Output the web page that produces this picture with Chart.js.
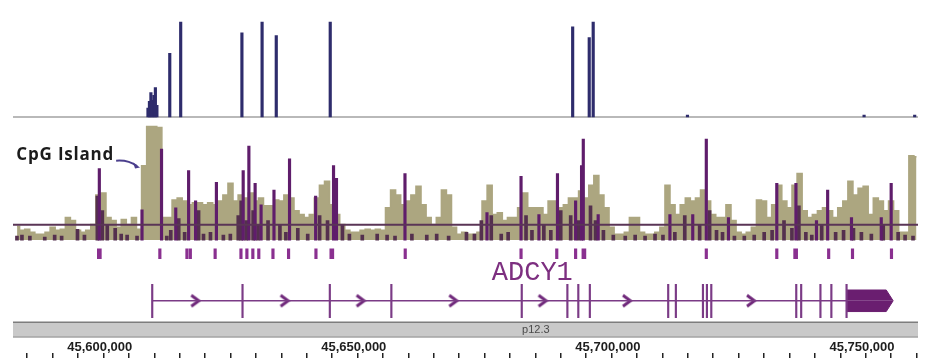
<!DOCTYPE html>
<html lang="en">
<head>
<meta charset="UTF-8" />
<title>ADCY1 locus</title>
<script src="https://cdn.jsdelivr.net/npm/chart.js"></script>
<style>
  html, body { margin: 0; padding: 0; background: #fff; }
  #wrap { width: 925px; height: 358px; }
</style>
</head>
<body>
<div id="wrap"><canvas id="locus" width="925" height="358"></canvas></div>
<script>
// view window (kb on chr7)
const viewStart = 45584.7;
const viewEnd = 45762.8;
const rulerLabels = [45600, 45650, 45700, 45750];
const rulerStep = 5;

// top track: hits
const topPos = [45611.26, 45611.55, 45611.84, 45612.14, 45612.43, 45612.72, 45613.02, 45615.55, 45617.70,
  45629.75, 45633.72, 45636.51, 45647.13, 45694.84, 45698.10, 45698.88, 45717.43, 45752.19, 45762.15];
const topVal = [9, 16, 25, 17, 22, 30, 12, 65, 97, 86, 97, 83, 97, 92, 81, 97, 2, 2, 2];

// coverage, fixedStep wig (1 kb bins)
const covStart = 45585.5;
const covStep = 1;
const covVal = [
  14, 10, 11, 8, 6, 6, 8, 13, 10, 11,
  23, 20, 10, 8, 10, 16, 46, 48, 23, 20,
  13, 21, 16, 23, 11, 76, 116, 116, 115, 23,
  23, 41, 43, 40, 36, 38, 38, 36, 38, 36,
  40, 46, 58, 40, 46, 43, 48, 40, 43, 35,
  35, 41, 40, 46, 43, 30, 26, 23, 26, 43,
  56, 60, 36, 26, 16, 10, 8, 8, 10, 11,
  10, 11, 10, 33, 51, 46, 36, 40, 46, 55,
  36, 23, 16, 23, 51, 46, 13, 6, 8, 6,
  6, 8, 40, 56, 26, 28, 20, 23, 23, 33,
  48, 33, 33, 33, 26, 40, 40, 33, 36, 43,
  43, 50, 43, 56, 66, 46, 33, 13, 6, 6,
  8, 23, 23, 8, 6, 6, 8, 13, 56, 36,
  26, 36, 43, 40, 43, 51, 40, 26, 23, 23,
  36, 20, 8, 6, 8, 13, 41, 40, 23, 36,
  56, 40, 33, 56, 68, 30, 23, 26, 30, 33,
  30, 23, 33, 40, 60, 46, 53, 55, 26, 43,
  40, 30, 40, 30, 8, 8, 86, 85
];

// CpG signal bars
const spikePos = [45601.69, 45610.09, 45613.93, 45616.73, 45619.26, 45620.63, 45624.73, 45630.00, 45631.12,
  45632.35, 45633.52, 45636.06, 45639.12, 45644.26, 45647.78, 45648.36, 45661.84, 45677.98, 45684.68,
  45688.20, 45691.85, 45695.42, 45696.59, 45696.93, 45699.86, 45713.98, 45718.47, 45721.14, 45725.50,
  45735.01, 45738.78, 45742.82, 45745.02, 45749.71, 45755.57, 45757.52];
const spikeVal = [73, 31, 93, 33, 71, 40, 59, 71, 96, 58, 36, 51, 83, 45, 76, 63, 68, 28, 65,
  26, 68, 40, 76, 103, 26, 26, 26, 103, 23, 58, 58, 20, 51, 23, 23, 58];

const lowPos = [45585.48, 45586.46, 45588.02, 45590.95, 45592.90, 45594.27, 45597.39, 45598.76, 45601.30,
  45602.28, 45603.25, 45604.81, 45605.99, 45607.16, 45609.11, 45614.97, 45615.75, 45617.31, 45618.48,
  45621.22, 45622.19, 45623.56, 45626.10, 45627.47, 45629.03, 45629.61, 45630.59, 45631.96, 45632.93,
  45634.89, 45637.23, 45638.40, 45640.75, 45642.70, 45645.04, 45646.60, 45649.53, 45650.90, 45653.44,
  45656.37, 45658.32, 45659.88, 45663.20, 45666.13, 45668.08, 45670.43, 45673.94, 45675.51, 45676.87,
  45678.82, 45680.78, 45682.14, 45685.66, 45686.83, 45689.17, 45690.54, 45692.49, 45694.45, 45696.01,
  45698.35, 45699.33, 45700.89, 45702.84, 45705.19, 45707.14, 45709.09, 45711.05, 45712.61, 45714.95,
  45716.90, 45719.83, 45721.79, 45723.15, 45724.33, 45726.67, 45728.62, 45730.57, 45732.53, 45734.09,
  45736.43, 45737.99, 45739.36, 45740.73, 45741.90, 45743.85, 45746.59, 45748.15, 45750.10, 45751.66,
  45753.62, 45755.96, 45758.89, 45760.26, 45761.82];
const lowVal = [4, 5, 4, 3, 5, 4, 11, 5, 45,
  30, 15, 12, 6, 5, 4, 4, 10, 22, 8,
  30, 6, 8, 5, 6, 25, 40, 20, 30, 15,
  20, 15, 8, 12, 6, 25, 20, 15, 6, 5,
  6, 5, 4, 6, 5, 6, 4, 8, 6, 20,
  25, 6, 8, 25, 10, 15, 10, 30, 25, 20,
  35, 20, 10, 5, 4, 5, 4, 6, 5, 8,
  25, 15, 30, 10, 8, 4, 4, 5, 8, 10,
  20, 12, 35, 8, 5, 15, 8, 10, 12, 8,
  6, 15, 8, 5, 4];
const cutoff = 15.7;

// feature marks
const markPos = [45613.60, 45618.93, 45619.60, 45624.48, 45629.56, 45630.73, 45631.90, 45633.07, 45635.86,
  45638.93, 45644.32, 45661.89, 45684.68, 45691.71, 45695.42, 45721.14, 45735.01, 45745.22, 45749.91, 45757.58];
const markWidePos = [45601.69, 45647.44, 45697.05, 45738.72];

// ADCY1 gene model
const exonPos = [45612.10, 45629.87, 45647.05, 45659.16, 45684.82, 45693.80, 45695.95, 45698.22, 45713.64,
  45715.15, 45720.48, 45721.26, 45722.12, 45738.84, 45739.81, 45743.60, 45745.75, 45748.74];
const txStart = 45612.10;
const utrStart = 45748.74;
const utrEnd = 45756.55;
const txEnd = 45757.91;
const strandPos = [45620.57, 45638.15, 45653.11, 45671.35, 45688.92, 45705.52, 45729.93];
const geneName = 'ADCY1';
const geneLabelPos = 45686.9;
const bandName = 'p12.3';
const bandLabelPos = 45687.6;
const islandLabel = 'CpG Island';
const islandArrow = [[45605.0, 81], [45609.7, 74]];

const xy = (xs, ys) => xs.map((x, i) => ({ x, y: ys[i] }));

const chevron = (() => {
  const c = document.createElement('canvas');
  c.width = 12; c.height = 15;
  const g = c.getContext('2d');
  g.strokeStyle = '#70297b';
  g.lineWidth = 3;
  g.beginPath(); g.moveTo(2, 2); g.lineTo(9.5, 7.5); g.lineTo(2, 13); g.stroke();
  return c;
})();

const decor = {
  id: 'decor',
  beforeDatasetsDraw(chart) {
    const { ctx, chartArea, scales } = chart;
    const top = scales.yBand.getPixelForValue(1);
    const bot = scales.yBand.getPixelForValue(0);
    ctx.save();
    ctx.fillStyle = '#c9c9c9';
    ctx.fillRect(chartArea.left, top, chartArea.right - chartArea.left, bot - top);
    ctx.strokeStyle = '#7d7d7d';
    ctx.lineWidth = 1.5;
    ctx.beginPath(); ctx.moveTo(chartArea.left, top); ctx.lineTo(chartArea.right, top); ctx.stroke();
    ctx.strokeStyle = '#a3a3a3';
    ctx.beginPath(); ctx.moveTo(chartArea.left, bot); ctx.lineTo(chartArea.right, bot); ctx.stroke();
    ctx.fillStyle = '#4a4a4a';
    ctx.font = '11px "Liberation Sans", Arial, sans-serif';
    ctx.textAlign = 'center';
    ctx.textBaseline = 'middle';
    ctx.fillText(bandName, scales.x.getPixelForValue(bandLabelPos), (top + bot) / 2 + 0.5);
    ctx.restore();
  },
  afterDatasetsDraw(chart) {
    const { ctx, scales } = chart;
    const x = scales.x, yg = scales.yGene, ym = scales.yMid;
    ctx.save();
    ctx.fillStyle = '#7d2f80';
    ctx.font = '27px "Liberation Mono", "Courier New", monospace';
    ctx.textAlign = 'center';
    ctx.textBaseline = 'alphabetic';
    ctx.fillText(geneName, x.getPixelForValue(geneLabelPos), yg.getPixelForValue(21.7));

    const [a, b] = islandArrow;
    const ax = x.getPixelForValue(a[0]), ay = ym.getPixelForValue(a[1]);
    const bx = x.getPixelForValue(b[0]), by = ym.getPixelForValue(b[1]);
    ctx.fillStyle = '#1b1b1b';
    ctx.font = 'bold 17px "Open Sans", sans-serif';
    ctx.letterSpacing = '0.8px';
    ctx.textAlign = 'right';
    ctx.fillText(islandLabel, ax - 2, ay - 1);
    ctx.letterSpacing = '0px';
    ctx.strokeStyle = '#4b3f8d';
    ctx.fillStyle = '#4b3f8d';
    ctx.lineWidth = 2;
    ctx.beginPath();
    ctx.moveTo(ax, ay);
    ctx.quadraticCurveTo((ax + bx) / 2, ay - 1, bx - 3, by - 1.5);
    ctx.stroke();
    ctx.beginPath();
    ctx.moveTo(bx, by);
    ctx.lineTo(bx - 7, by - 5);
    ctx.lineTo(bx - 5, by + 1);
    ctx.closePath();
    ctx.fill();
    ctx.restore();
  }
};

const stackedY = (weight, stackWeight, min, max) => ({
  type: 'linear', display: false, stack: 'tracks', weight, stackWeight, min, max, bounds: 'data'
});

new Chart(document.getElementById('locus'), {
  type: 'bar',
  data: {
    datasets: [
      { type: 'line', yAxisID: 'yMid', order: 0, data: [{ x: viewStart, y: cutoff }, { x: viewEnd, y: cutoff }],
        borderColor: '#5a3556', borderWidth: 2, pointRadius: 0 },
      { type: 'bar', yAxisID: 'yMid', order: 1, data: xy(spikePos, spikeVal), grouped: false,
        backgroundColor: '#5f1d6b', barThickness: 2.5 },
      { type: 'bar', yAxisID: 'yMid', order: 2, data: xy(lowPos, lowVal), grouped: false,
        backgroundColor: '#54304e', barThickness: 3 },
      { type: 'line', yAxisID: 'yMid', order: 10,
        data: covVal.map((v, i) => ({ x: covStart + i * covStep, y: v })),
        stepped: 'middle', fill: 'origin', backgroundColor: '#aca680', borderColor: '#aca680',
        borderWidth: 1.5, pointRadius: 0 },
      { type: 'line', yAxisID: 'yTop', order: 5, data: [{ x: viewStart, y: 0 }, { x: viewEnd, y: 0 }],
        borderColor: '#a2a2a2', borderWidth: 1.5, pointRadius: 0 },
      { type: 'bar', yAxisID: 'yTop', order: 4, data: xy(topPos, topVal), grouped: false,
        backgroundColor: '#2e2c6c', barThickness: 2.5 },
      { type: 'bar', yAxisID: 'yMarks', order: 3, data: markPos.map(x => ({ x, y: [0, 1] })), grouped: false,
        backgroundColor: '#8a3090', barThickness: 2.5 },
      { type: 'bar', yAxisID: 'yMarks', order: 3, data: markWidePos.map(x => ({ x, y: [0, 1] })), grouped: false,
        backgroundColor: '#8a3090', barThickness: 4 },
      { type: 'line', yAxisID: 'yGene', order: 3, data: [{ x: txStart, y: 0 }, { x: utrStart, y: 0 }],
        borderColor: '#7b3b86', borderWidth: 1.5, pointRadius: 0 },
      { type: 'bar', yAxisID: 'yGene', order: 3, data: exonPos.map(x => ({ x, y: [-17.3, 16.7] })), grouped: false,
        backgroundColor: '#7b3b86', barThickness: 1.5 },
      { type: 'line', yAxisID: 'yGene', order: 3, data: strandPos.map(x => ({ x, y: 0 })),
        showLine: false, pointStyle: chevron, pointRadius: 6 },
      { type: 'line', yAxisID: 'yGene', order: 3,
        data: [{ x: utrStart, y: 11 }, { x: utrEnd, y: 11 }, { x: txEnd, y: 0 }],
        fill: 'origin', backgroundColor: '#6a1e70', borderColor: '#6a1e70', borderWidth: 1, pointRadius: 0 },
      { type: 'line', yAxisID: 'yGene', order: 3,
        data: [{ x: utrStart, y: -11 }, { x: utrEnd, y: -11 }, { x: txEnd, y: 0 }],
        fill: 'origin', backgroundColor: '#6a1e70', borderColor: '#6a1e70', borderWidth: 1, pointRadius: 0 }
    ]
  },
  options: {
    responsive: false,
    animation: false,
    events: [],
    devicePixelRatio: 1,
    layout: { padding: { left: 13, right: 0, top: 0, bottom: 0 } },
    plugins: { legend: { display: false }, tooltip: { enabled: false } },
    scales: {
      x: {
        type: 'linear', position: 'bottom', weight: 0, min: viewStart, max: viewEnd, bounds: 'data', offset: false,
        afterBuildTicks: s => { s.ticks = rulerLabels.map(v => ({ value: v })); },
        afterFit: s => { s.height = 16; },
        grid: { display: false, drawTicks: false },
        border: { display: false },
        ticks: {
          padding: 2, labelOffset: 9, autoSkip: false, maxRotation: 0, color: '#1e1e1e',
          font: { family: '"Liberation Sans", Arial, sans-serif', size: 13, weight: 'bold' },
          callback: v => (v * 1000).toLocaleString('en-US')
        }
      },
      xRuler: {
        type: 'linear', position: 'bottom', weight: 1, min: viewStart, max: viewEnd, bounds: 'data', offset: false,
        afterBuildTicks: s => {
          const t = [];
          for (let v = Math.ceil(viewStart / rulerStep) * rulerStep; v <= viewEnd; v += rulerStep) t.push({ value: v });
          s.ticks = t;
        },
        afterFit: s => { s.height = 4.6; },
        grid: { drawOnChartArea: false, drawTicks: true, tickLength: 5, color: '#222', lineWidth: 1.5 },
        border: { display: false },
        ticks: { display: false }
      },
      yTop: stackedY(5, 116, -3.7, 112.3),
      yMid: stackedY(4, 124, -2, 122),
      yMarks: stackedY(3, 22, -0.5, 1.7),
      yGene: stackedY(2, 58, -20, 38),
      yBand: stackedY(1, 17.4, -0.027, 1.133)
    }
  },
  plugins: [decor]
});
</script>
</body>
</html>
